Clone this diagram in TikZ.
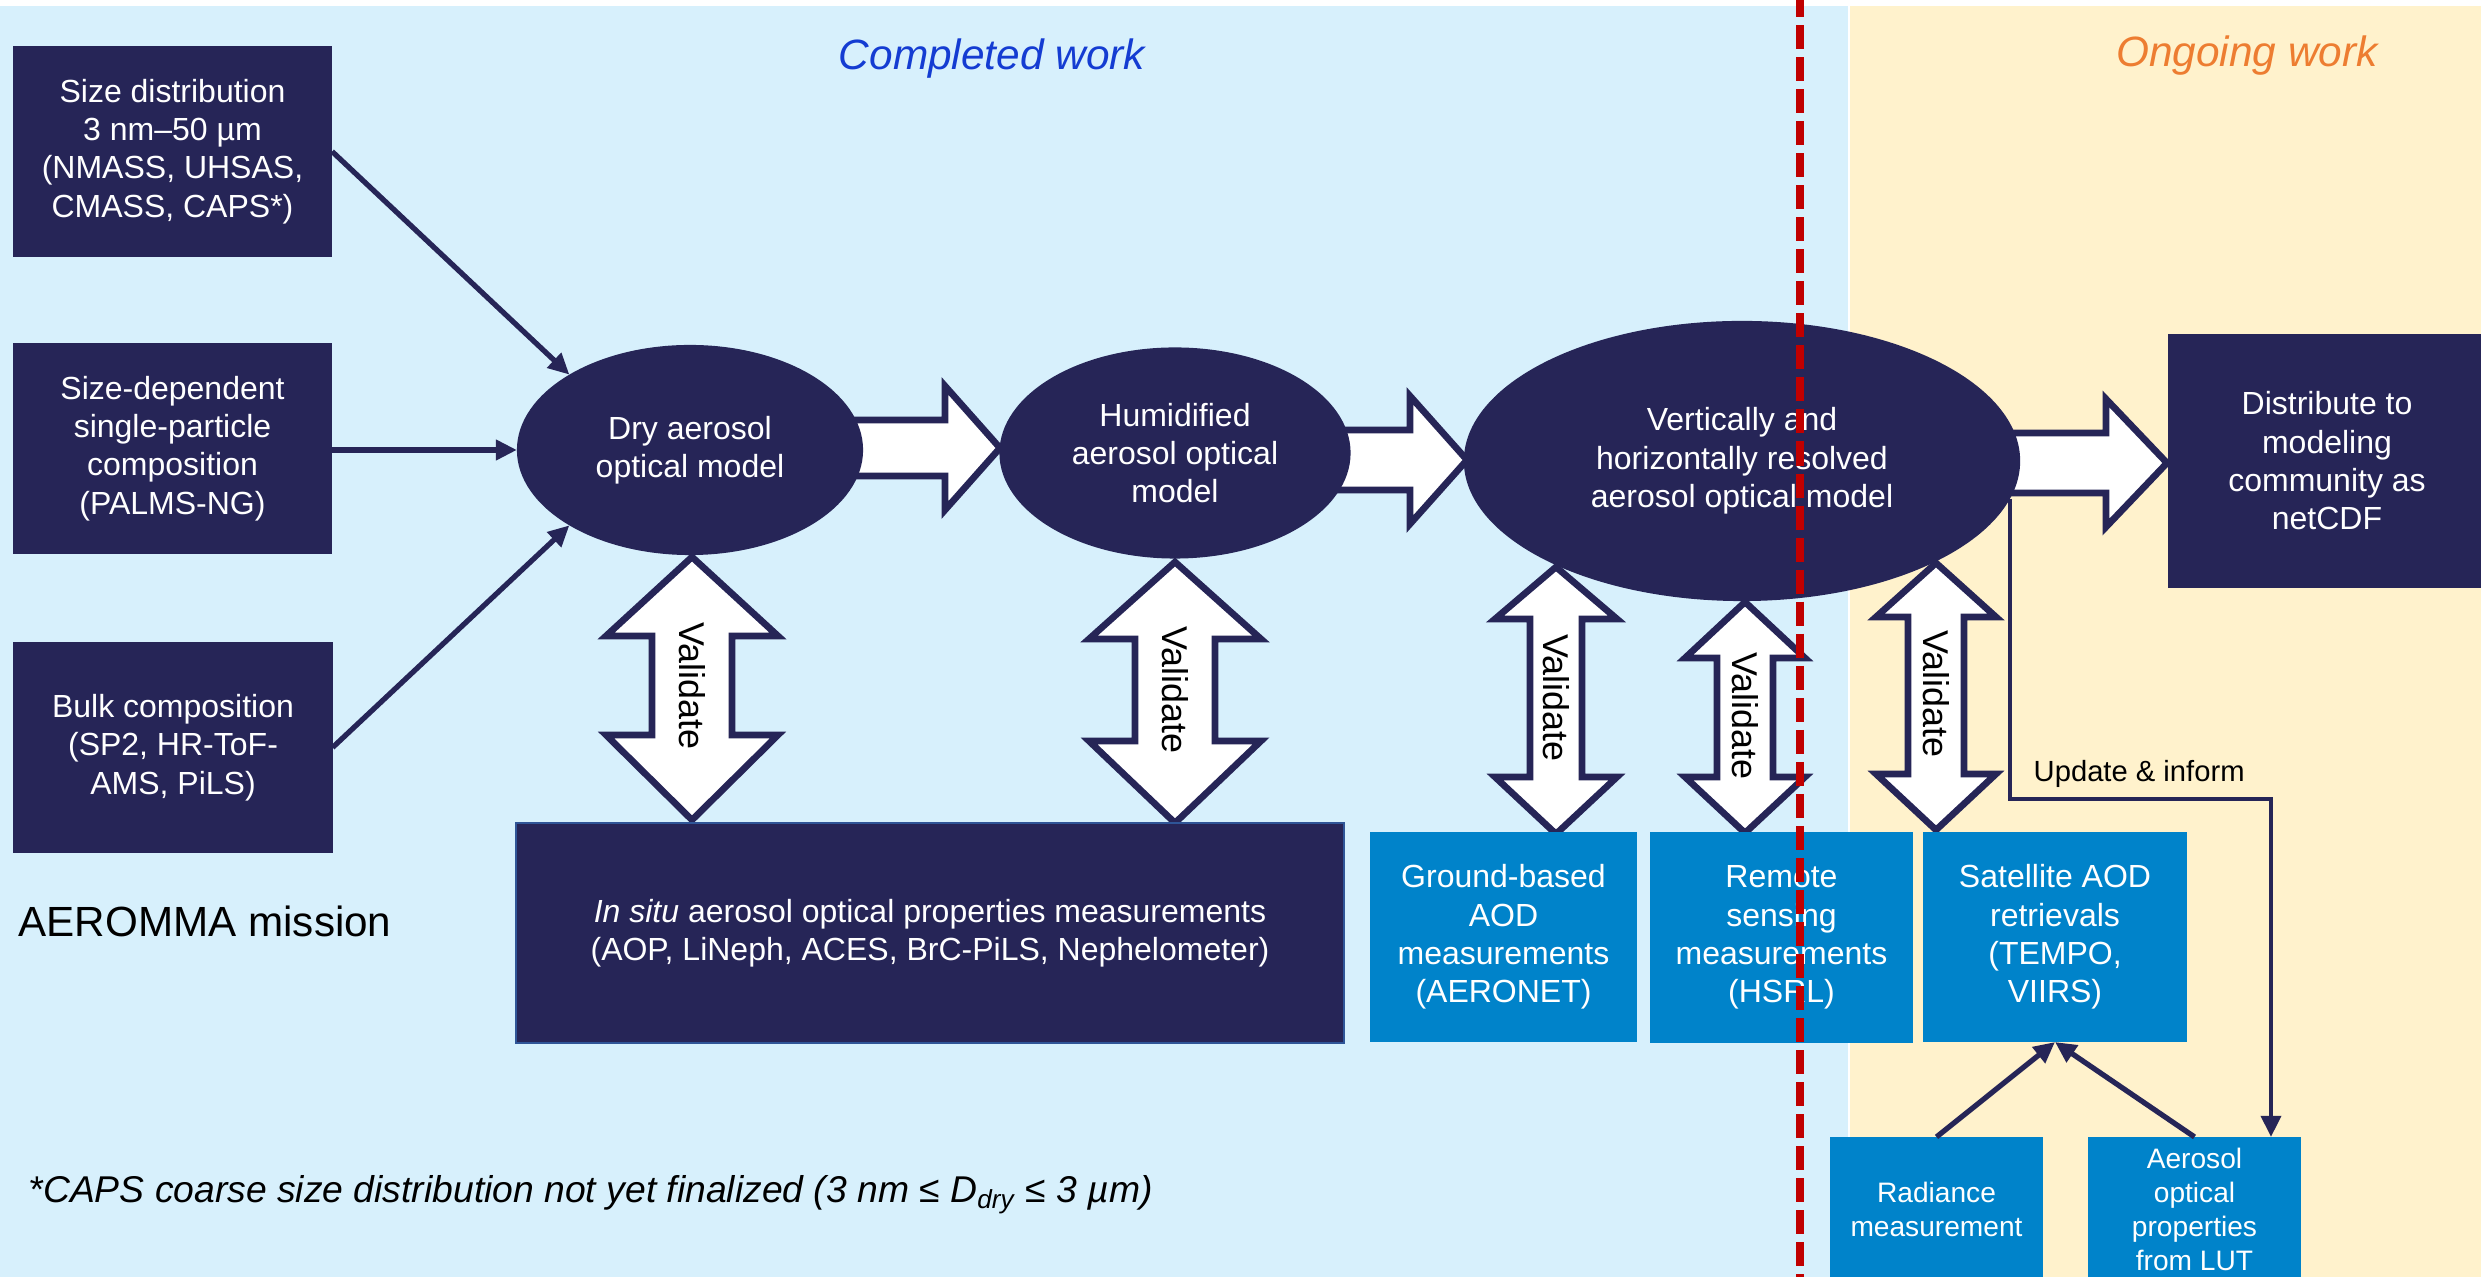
\documentclass[tikz,border=0pt]{standalone}
\usepackage{fontspec}
\setmainfont{Liberation Sans}
\usetikzlibrary{arrows.meta,calc,shapes.geometric}
\definecolor{navy}{RGB}{38,37,87}
\definecolor{bblue}{RGB}{0,131,202}
\definecolor{bgblue}{RGB}{215,240,252}
\definecolor{cream}{RGB}{255,242,204}
\definecolor{compblue}{RGB}{20,60,210}
\definecolor{onorange}{RGB}{237,125,49}
\definecolor{redline}{RGB}{192,0,0}
\definecolor{edgeblue}{RGB}{47,85,151}
\newcommand\vdarrow[7]{%
  \draw[blk] (#1,#2) -- (#1+#7,#3) -- (#1+#6,#3) -- (#1+#6,#4) -- (#1+#7,#4) -- (#1,#5)
    -- (#1-#7,#4) -- (#1-#6,#4) -- (#1-#6,#3) -- (#1-#7,#3) -- cycle;}
\newcommand\hblkarrow[6]{% tail, headbase, tip, cy, h, H
  \draw[blk] (#1,#4-#5) -- (#2,#4-#5) -- (#2,#4-#6) -- (#3,#4) -- (#2,#4+#6) -- (#2,#4+#5) -- (#1,#4+#5) -- cycle;}
\begin{document}
\begin{tikzpicture}[x=0.01cm,y=-0.01cm,
  txt/.style={font=\fontsize{9.1}{10.9}\selectfont},
  smalltxt/.style={font=\fontsize{8}{9.7}\selectfont},
  darkbox/.style={rectangle, fill=navy, text=white, inner sep=0pt, outer sep=0pt, align=center, txt},
  bluebox/.style={rectangle, fill=bblue, text=white, inner sep=0pt, outer sep=0pt, align=center, txt},
  oval/.style={ellipse, fill=navy, text=white, inner sep=0pt, outer sep=0pt, align=center, txt},
  conn/.style={draw=navy, line width=1.5pt, -{Triangle[length=6pt,width=5.6pt]}},
  blk/.style={draw=navy, fill=white, line width=1.9pt, line join=miter},
  vtext/.style={rotate=-90, font=\fontsize{10.2}{12}\selectfont, inner sep=0pt},
]
\useasboundingbox (0,0) rectangle (2481,1277);
% backgrounds
\fill[white] (0,0) rectangle (2481,1277);
\fill[bgblue] (0,6) rectangle (1848,1277);
\fill[cream] (1850,6) rectangle (2481,1277);

% block arrows (drawn below the ellipses)
\hblkarrow{850}{945}{1000}{448}{28}{62}
\hblkarrow{1335}{1410}{1467}{460}{30}{64}
\hblkarrow{2005}{2106}{2167}{463}{30}{64}

% validate double arrows
\vdarrow{692}{557}{636}{735}{820}{40}{86}
\vdarrow{1175}{562}{639}{741}{823}{40}{86}
\vdarrow{1556}{567}{619}{777}{834}{26}{61}
\vdarrow{1745}{602}{658}{777}{833}{28}{60}
\vdarrow{1936}{563}{617}{774}{830}{28}{60}

\node[vtext] (val1) at (692,686) {Validate};
\node[vtext] (val2) at (1175,690) {Validate};
\node[vtext] (val3) at (1556,698) {Validate};
\node[vtext] (val4) at (1745,716) {Validate};
\node[vtext] (val5) at (1936,694) {Validate};

% titles
\node[anchor=base, inner sep=0pt, text=compblue, font=\fontsize{12.05}{14}\selectfont\itshape] (ctitle) at (992,70) {Completed work};
\node[anchor=base, inner sep=0pt, text=onorange, font=\fontsize{12.05}{14}\selectfont\itshape] (otitle) at (2247,67) {Ongoing work};

% left boxes
\node[darkbox, minimum width=3.19cm, minimum height=2.11cm] (sd) at (172.5,151.5)
  {Size distribution\\3 nm–50 µm\\(NMASS, UHSAS,\\CMASS, CAPS*)};
\node[darkbox, minimum width=3.19cm, minimum height=2.11cm] (sp) at (172.5,448.5)
  {Size-dependent\\single-particle\\composition\\(PALMS-NG)};
\node[darkbox, minimum width=3.19cm, minimum height=2.11cm] (bc) at (173,747.5)
  {Bulk composition\\(SP2, HR-ToF-\\AMS, PiLS)};

% ellipses
\node[oval, minimum width=3.46cm, minimum height=2.10cm] (dry) at (690,450) {Dry aerosol\\optical model};
\node[oval, minimum width=3.51cm, minimum height=2.11cm] (hum) at (1175,453) {Humidified\\aerosol optical\\model};
\node[oval, minimum width=5.56cm, minimum height=2.80cm] (vert) at (1742,461)
  {Vertically and\\horizontally resolved\\aerosol optical model};

% right box
\node[darkbox, minimum width=3.18cm, minimum height=2.54cm] (dist) at (2327,461)
  {Distribute to\\modeling\\community as\\netCDF};

% measurement boxes
\node[darkbox, draw=edgeblue, line width=0.6pt, minimum width=8.28cm, minimum height=2.20cm] (insitu) at (930,933)
  {\textit{In situ} aerosol optical properties measurements\\(AOP, LiNeph, ACES, BrC-PiLS, Nephelometer)};
\node[bluebox, minimum width=2.67cm, minimum height=2.10cm] (ground) at (1503.5,937)
  {Ground-based\\AOD\\measurements\\(AERONET)};
\node[bluebox, minimum width=2.63cm, minimum height=2.11cm] (remote) at (1781.5,937.5)
  {Remote\\sensing\\measurements\\(HSRL)};
\node[bluebox, minimum width=2.64cm, minimum height=2.10cm] (sat) at (2055,937)
  {Satellite AOD\\retrievals\\(TEMPO,\\VIIRS)};
\node[bluebox, smalltxt, minimum width=2.13cm, minimum height=1.45cm] (rad) at (1936.5,1209.5)
  {Radiance\\measurement};
\node[bluebox, smalltxt, minimum width=2.13cm, minimum height=1.45cm] (aer) at (2194.5,1209.5)
  {Aerosol\\optical\\properties\\from LUT};

% texts
\node[anchor=base west, inner sep=0pt, font=\fontsize{12}{14}\selectfont] (mission) at (18,937) {AEROMMA mission};
\node[anchor=base west, inner sep=0pt, font=\fontsize{10.6}{12}\selectfont\itshape] (note) at (28,1203)
  {*CAPS coarse size distribution not yet finalized (3 nm ≤ D\textsubscript{dry} ≤ 3 µm)};
\node[anchor=base west, inner sep=0pt, font=\fontsize{8.3}{10}\selectfont] (upd) at (2033,782) {Update \& inform};

% connectors
\draw[conn] (sd.east) -- (dry.148);
\draw[conn] (sp.east |- dry.west) -- (dry.west);
\draw[conn] (bc.east) -- (dry.-148);
\draw[conn] (rad.north) -- (sat.south);
\draw[conn] (aer.north) -- (sat.south);
\coordinate (ucorner) at (2271,799);
\draw[conn, line width=1.3pt] (vert.-8.8) |- (ucorner) -- (ucorner |- aer.north);

% red dashed divider
\draw[redline, line width=2.28pt, dash pattern=on 6.83pt off 2.28pt, dash phase=1.99pt] (1800,0) -- (1800,1277);
\end{tikzpicture}
\end{document}
